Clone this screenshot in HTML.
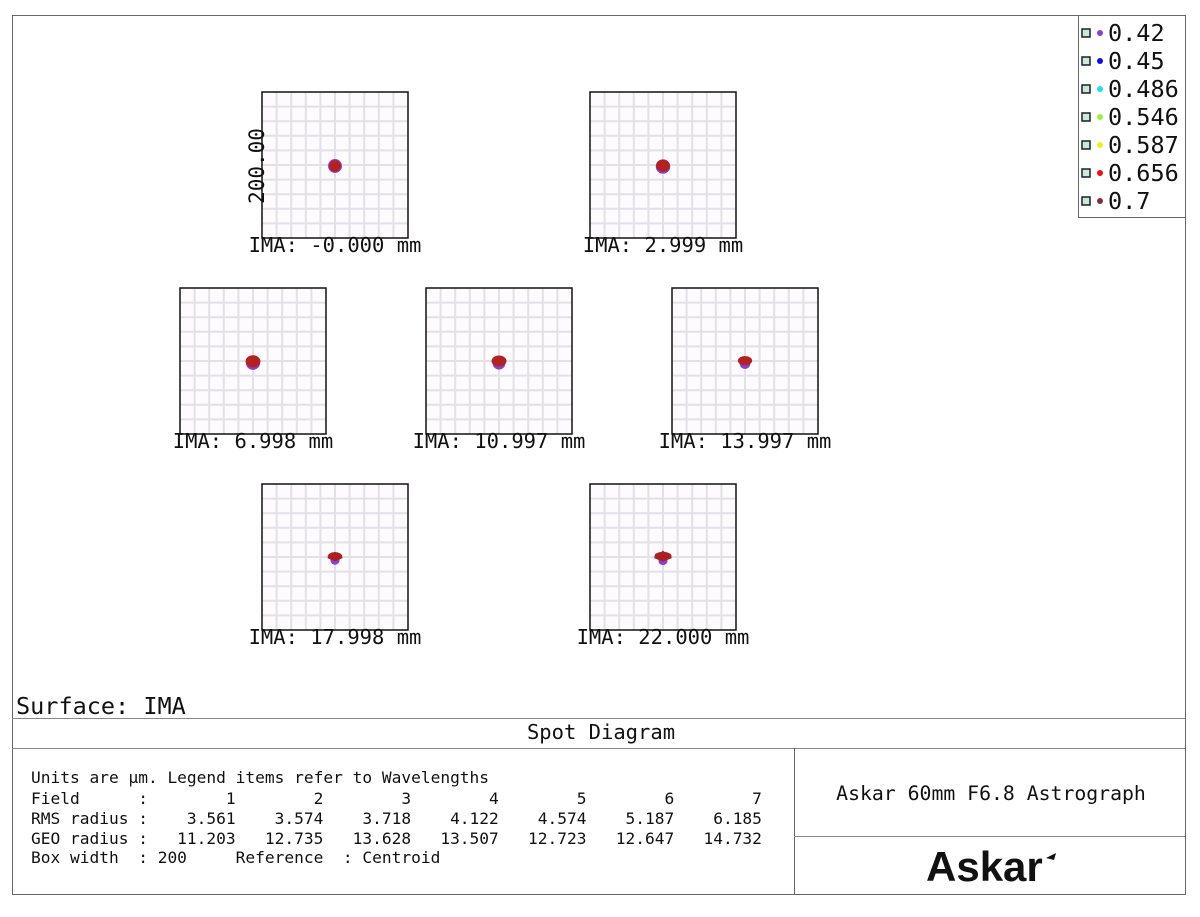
<!DOCTYPE html>
<html><head><meta charset="utf-8"><style>
body{margin:0;background:#fff}
svg text{font-family:"DejaVu Sans Mono","Liberation Mono",monospace;fill:#111}
</style></head><body>
<svg id="chart" width="1200" height="912" viewBox="0 0 1200 912" xmlns="http://www.w3.org/2000/svg">
<rect x="12.5" y="15.5" width="1173" height="879" fill="#fff" stroke="#666" stroke-width="1"/>
<g id="plots"></g>
<text transform="translate(264,166) rotate(-90)" text-anchor="middle" font-size="21">200.00</text>
<g>
<rect x="1078.5" y="15.5" width="107" height="202" fill="#fff" stroke="#666"/>
<g id="legend-items"></g>
</g>
<text x="16" y="714" font-size="23.5">Surface: IMA</text>
<line x1="12" y1="718.5" x2="1185" y2="718.5" stroke="#888"/>
<text x="601" y="739" text-anchor="middle" font-size="20.5">Spot Diagram</text>
<line x1="12" y1="748.5" x2="1185" y2="748.5" stroke="#888"/>
<line x1="794.5" y1="748" x2="794.5" y2="894" stroke="#666"/>
<line x1="794" y1="836.5" x2="1185" y2="836.5" stroke="#888"/>
<g font-size="16.2">
<text x="31" y="783" xml:space="preserve">Units are µm. Legend items refer to Wavelengths</text>
<text x="31" y="804" xml:space="preserve">Field      :        1        2        3        4        5        6        7</text>
<text x="31" y="824" xml:space="preserve">RMS radius :    3.561    3.574    3.718    4.122    4.574    5.187    6.185</text>
<text x="31" y="844" xml:space="preserve">GEO radius :   11.203   12.735   13.628   13.507   12.723   12.647   14.732</text>
<text x="31" y="863" xml:space="preserve">Box width  : 200     Reference  : Centroid</text>
</g>
<text x="991" y="800" text-anchor="middle" font-size="19.8">Askar 60mm F6.8 Astrograph</text>
<text x="926" y="881" font-size="42" font-weight="bold" style="font-family:'Liberation Sans',sans-serif">Askar</text>
<path d="M1046 858 l10 -5 l-2 7 z" fill="#111"/>
</svg>
<script>
const fieldLabels=["IMA: -0.000 mm","IMA: 2.999 mm","IMA: 6.998 mm","IMA: 10.997 mm","IMA: 13.997 mm","IMA: 17.998 mm","IMA: 22.000 mm"];
const rmsRadius=[3.561,3.574,3.718,4.122,4.574,5.187,6.185];
const geoRadius=[11.203,12.735,13.628,13.507,12.723,12.647,14.732];
const wavelengths=["0.42","0.45","0.486","0.546","0.587","0.656","0.7"];
const wlColors=["#8a3fd0","#1010e0","#20e0f0","#a0f040","#f0f020","#f01010","#8b2a3a"];
const boxWidth=200;
const NS="http://www.w3.org/2000/svg";
const boxPos=[[262,92],[590,92],[180,288],[426,288],[672,288],[262,484],[590,484]];
const S=146;
const scale=v=>v/boxWidth*S;
function mk(t,a,p){const e=document.createElementNS(NS,t);for(const k in a)e.setAttribute(k,a[k]);p.appendChild(e);return e;}
const plots=document.getElementById('plots');
fieldLabels.forEach((lab,i)=>{
  const [x,y]=boxPos[i];
  const g=mk('g',{},plots);
  
  
  mk('rect',{x:x,y:y,width:S,height:S,fill:'#fdfbfd'},g);
  for(let k=1;k<10;k++){
    const o=k*S/10;
    mk('line',{x1:x+o,y1:y,x2:x+o,y2:y+S,stroke:'#e4e0e8','stroke-width':2},g);
    mk('line',{x1:x,y1:y+o,x2:x+S,y2:y+o,stroke:'#e4e0e8','stroke-width':2},g);
  }
  mk('rect',{x:x,y:y,width:S,height:S,fill:'none',stroke:'#111','stroke-width':1.5},g);
  const cx=x+S/2, cy=y+S/2+1;
  const r=scale(geoRadius[i])*0.85;
  const spot=mk('g',{},g);
  
  
  const flat=i/6;
  mk('ellipse',{cx:cx,cy:cy+flat*3,rx:r*(1-flat*0.5),ry:r*(1-flat*0.55),fill:wlColors[0]},spot);
  mk('ellipse',{cx:cx,cy:cy-flat*2,rx:r*0.85*(1+flat*0.1),ry:r*0.85*(1-flat*0.45),fill:'#b22222'},spot);
  if(i>=5) mk('path',{d:`M${cx-r} ${cy} L${cx} ${cy-r*0.8} L${cx+r} ${cy} L${cx} ${cy+r*0.4}Z`,fill:'#a82020'},spot);
  const t=mk('text',{x:x+S/2,y:y+S+14,'text-anchor':'middle','font-size':20.5},g);
  
  
  t.textContent=lab;
});
const li=document.getElementById('legend-items');
wavelengths.forEach((w,i)=>{
  const y=33+i*28;
  const g=mk('g',{},li);
  
  
  mk('rect',{x:1082,y:y-4,width:8,height:8,fill:'#cfe8cf',stroke:'#123',"stroke-width":1.5},g);
  mk('circle',{cx:1100,cy:y,r:3,fill:wlColors[i]},g);
  const t=mk('text',{x:1108,y:y+8,'font-size':23.5},g);
  t.textContent=w;
});
</script>
</body></html>
